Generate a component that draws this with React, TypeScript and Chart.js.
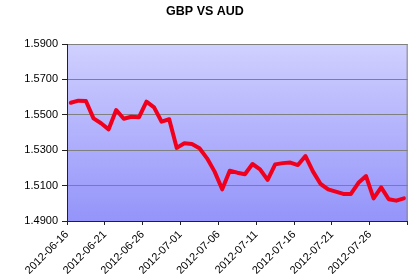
import React, { useEffect, useRef } from "react";
import { Chart, registerables } from "chart.js";

Chart.register(...registerables);

const TITLE = "GBP VS AUD";

const DATES = [
  "2012-06-16", "2012-06-17", "2012-06-18", "2012-06-19", "2012-06-20",
  "2012-06-21", "2012-06-22", "2012-06-23", "2012-06-24", "2012-06-25",
  "2012-06-26", "2012-06-27", "2012-06-28", "2012-06-29", "2012-06-30",
  "2012-07-01", "2012-07-02", "2012-07-03", "2012-07-04", "2012-07-05",
  "2012-07-06", "2012-07-07", "2012-07-08", "2012-07-09", "2012-07-10",
  "2012-07-11", "2012-07-12", "2012-07-13", "2012-07-14", "2012-07-15",
  "2012-07-16", "2012-07-17", "2012-07-18", "2012-07-19", "2012-07-20",
  "2012-07-21", "2012-07-22", "2012-07-23", "2012-07-24", "2012-07-25",
  "2012-07-26", "2012-07-27", "2012-07-28", "2012-07-29", "2012-07-30",
];

const RATES = [
  1.5568, 1.558, 1.5578, 1.548, 1.5452,
  1.5418, 1.5527, 1.5478, 1.5489, 1.5486,
  1.5574, 1.5542, 1.5461, 1.5475, 1.5313,
  1.5339, 1.5335, 1.5311, 1.5254, 1.5179,
  1.5079, 1.5184, 1.5173, 1.5164, 1.5222,
  1.5192, 1.5132, 1.522, 1.5227, 1.523,
  1.5216, 1.5267, 1.5179, 1.5109, 1.5079,
  1.5066, 1.5053, 1.5053, 1.5116, 1.5154,
  1.5028, 1.509, 1.5023, 1.5015, 1.5028,
];

const X_TICK_LABELS = [
  "2012-06-16", "2012-06-21", "2012-06-26", "2012-07-01", "2012-07-06",
  "2012-07-11", "2012-07-16", "2012-07-21", "2012-07-26",
];

const Y_MIN = 1.49;
const Y_MAX = 1.59;
const Y_STEP = 0.02;

const DAY_MS = 86400000;
const START = Date.parse(DATES[0] + "T00:00:00Z");
const dayIndex = (d: string) => Math.round((Date.parse(d + "T00:00:00Z") - START) / DAY_MS);

const plotBg = {
  id: "plotBg",
  beforeDraw(chart: any) {
    const { ctx, chartArea } = chart;
    const { left, top, right, bottom } = chartArea;
    ctx.save();
    const g = ctx.createLinearGradient(0, top, 0, bottom);
    g.addColorStop(0, "#d0d0ff");
    g.addColorStop(1, "#9494fa");
    ctx.fillStyle = g;
    ctx.fillRect(left, top, right - left, bottom - top);
    ctx.restore();
  },
  beforeDatasetsDraw(chart: any) {
    const { ctx, chartArea } = chart;
    const { top, right, bottom } = chartArea;
    ctx.save();
    ctx.strokeStyle = "#808080";
    ctx.lineWidth = 1;
    ctx.beginPath();
    ctx.moveTo(right - 0.5, top);
    ctx.lineTo(right - 0.5, bottom);
    ctx.stroke();
    ctx.restore();
  },
  afterDraw(chart: any) {
    const { ctx } = chart;
    ctx.save();
    ctx.font = "bold 12.5px 'Liberation Sans', Arial, sans-serif";
    ctx.fillStyle = "#000";
    ctx.textAlign = "center";
    ctx.textBaseline = "middle";
    ctx.fillText(TITLE, 205, 12);
    ctx.restore();
  },
};

export default function App() {
  const ref = useRef<HTMLCanvasElement | null>(null);

  useEffect(() => {
    if (!ref.current) return;
    const chart = new Chart(ref.current, {
      type: "line",
      data: {
        datasets: [
          {
            data: DATES.map((d, i) => ({ x: dayIndex(d) + 0.5, y: RATES[i] })),
            borderColor: "#f0001c",
            borderWidth: 4,
            pointRadius: 0,
            tension: 0,
            borderJoinStyle: "round",
            borderCapStyle: "round",
            fill: false,
          },
        ],
      },
      plugins: [plotBg],
      options: {
        responsive: false,
        animation: false,
        layout: { padding: { top: 44, right: 11, left: 0, bottom: 0 } },
        plugins: {
          legend: { display: false },
          title: { display: false },
          tooltip: { enabled: false },
        },
        scales: {
          x: {
            type: "linear",
            min: 0,
            max: 45,
            afterFit: (s: any) => {
              s.height = 55;
            },
            ticks: {
              stepSize: 5,
              autoSkip: false,
              maxRotation: 45,
              minRotation: 45,
              padding: 3,
              color: "#000",
              font: { family: "'Liberation Sans', Arial, sans-serif", size: 11 },
              callback: (v: any) => {
                const k = Math.round(Number(v) / 5);
                return k < X_TICK_LABELS.length ? X_TICK_LABELS[k] : "";
              },
            },
            grid: {
              drawOnChartArea: false,
              drawTicks: true,
              tickLength: 4,
              color: "#222",
            },
            border: { color: "#222", width: 1 },
          },
          y: {
            min: Y_MIN,
            max: Y_MAX,
            afterFit: (s: any) => {
              s.width = 67;
            },
            ticks: {
              stepSize: Y_STEP,
              padding: 4,
              color: "#000",
              font: { family: "'Liberation Sans', Arial, sans-serif", size: 11 },
              callback: (v: any) => Number(v).toFixed(4),
            },
            grid: {
              color: "#808080",
              tickColor: "#222",
              tickLength: 5,
              lineWidth: 1,
            },
            border: { color: "#222", width: 1 },
          },
        },
      },
    });
    return () => chart.destroy();
  }, []);

  return (
    <div style={{ position: "fixed", left: 0, top: 0, width: 420, height: 276, background: "#fff" }}>
      <canvas ref={ref} width={420} height={276} />
    </div>
  );
}
